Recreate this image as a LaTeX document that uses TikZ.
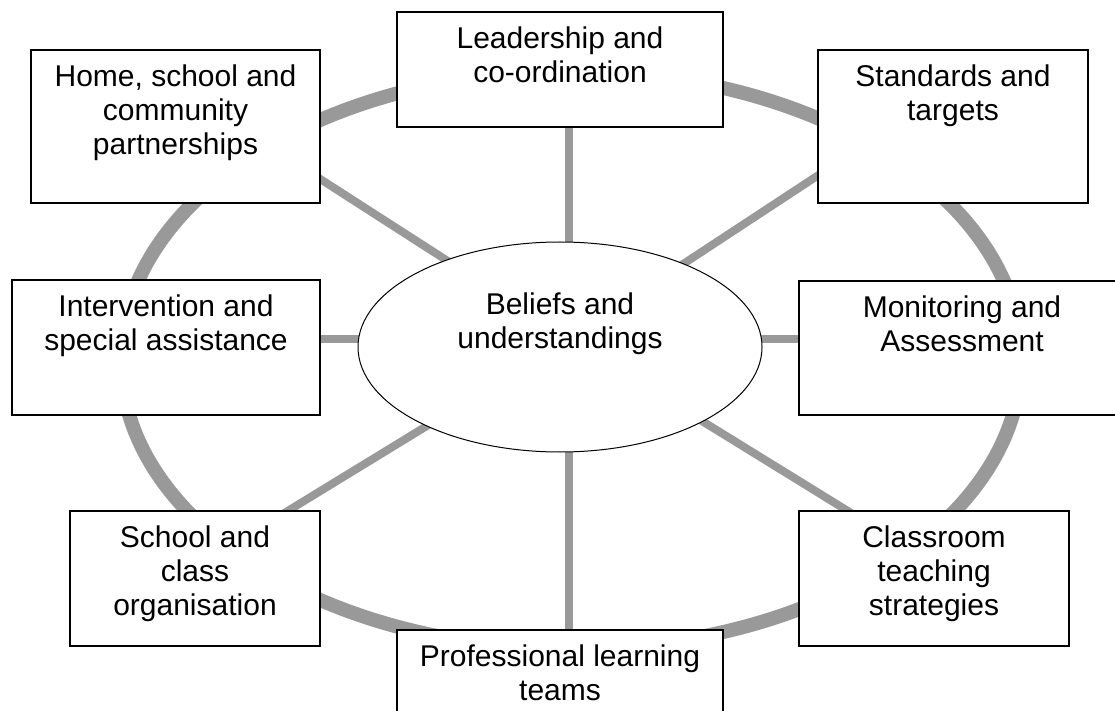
\documentclass[tikz,border=0pt]{standalone}
\usepackage{fontspec}
\setmainfont{Liberation Sans}
\usetikzlibrary{shapes.geometric,backgrounds}
\definecolor{schGray}{HTML}{999999}
\tikzset{
  sch box/.style={rectangle, draw=black, fill=white, line width=1.5pt, inner sep=0pt},
  sch core/.style={ellipse, draw=black, fill=white, line width=1pt, inner sep=0pt,
    minimum width=404pt, minimum height=210pt},
  sch text/.style={anchor=north, align=center, inner xsep=0pt, inner ysep=15pt,
    font=\fontsize{30pt}{34pt}\selectfont},
  sch ring/.style={draw=schGray, line width=14pt},
  sch spoke/.style={draw=schGray, line width=8pt, shorten >=-6pt},
}

\begin{document}
\begin{tikzpicture}[x=1pt,y=1pt]
  \useasboundingbox (0,0) rectangle (1115,710);
  \clip (0,0) rectangle (1115,710);
  % centre ellipse
  \node[sch core, label={[sch text, anchor=center, inner ysep=0pt, yshift=23pt]center:{Beliefs and\\understandings}}] (core) at (560,363) {};
  % boxes round the ring
  \node[sch box, minimum width=326pt, minimum height=115pt,
    label={[sch text]north:{Leadership and\\co-ordination}}] (lead) at (560,640.5) {};
  \node[sch box, minimum width=289pt, minimum height=153pt,
    label={[sch text]north:{Home, school and\\community\\partnerships}}] (home) at (175.5,583.5) {};
  \node[sch box, minimum width=270pt, minimum height=153pt,
    label={[sch text]north:{Standards and\\targets}}] (stand) at (953,583.5) {};
  \node[sch box, minimum width=308pt, minimum height=135pt,
    label={[sch text]north:{Intervention and\\special assistance}}] (inter) at (166,362.5) {};
  \node[sch box, minimum width=326pt, minimum height=134pt,
    label={[sch text]north:{Monitoring and\\Assessment}}] (monit) at (962,362) {};
  \node[sch box, minimum width=250pt, minimum height=135pt,
    label={[sch text]north:{School and\\class\\organisation}}] (school) at (195,131.5) {};
  \node[sch box, minimum width=270pt, minimum height=135pt,
    label={[sch text]north:{Classroom\\teaching\\strategies}}] (class) at (934,131.5) {};
  \node[sch box, minimum width=326pt, minimum height=115pt,
    label={[sch text]north:{Professional learning\\teams}}] (prof) at (560,22.5) {};

  \coordinate (hub) at (569,371);
  \coordinate (ringc) at (571,350);
  \begin{scope}[on background layer]
    \draw[sch ring] (ringc) ellipse [x radius=450, y radius=289];
    % spokes out from the middle
    \draw[sch spoke] (hub) -- (hub |- lead.south);
    \draw[sch spoke] (hub) -- (hub |- prof.north);
    \draw[sch spoke] (hub) -- (hub -| inter.east);
    \draw[sch spoke] (hub) -- (hub -| monit.west);
    \foreach \dest in {home.-20, stand.200, school.36, class.142}
      \draw[sch spoke] (hub) -- (\dest);
  \end{scope}
\end{tikzpicture}
\end{document}
